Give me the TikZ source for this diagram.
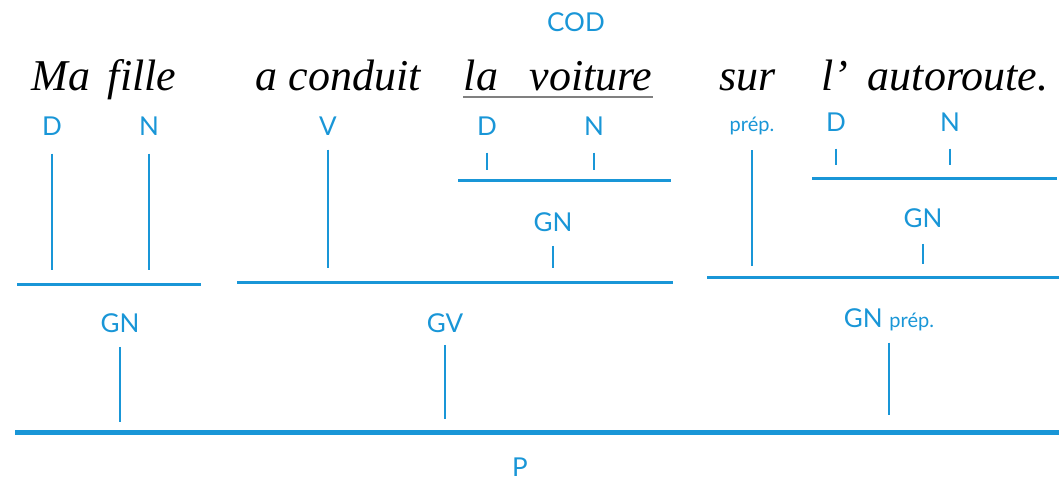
\documentclass[tikz,border=0pt]{standalone}
\usepackage{fontspec}
\newfontfamily\gillfont{Lato}
\newfontfamily\motfont{Liberation Serif}
\definecolor{schema}{RGB}{25,150,215}
\tikzset{
  mot/.style={font=\motfont\fontsize{22}{26}\selectfont\itshape, inner sep=0pt, anchor=base},
  cat/.style={font=\gillfont\fontsize{13}{15}\selectfont, text=schema, inner sep=2pt},
  petit/.style={font=\gillfont\fontsize{10}{12}\selectfont, text=schema, inner sep=2pt},
  trait/.style={draw=schema, line width=1pt},
  barre/.style={draw=schema, line width=1.5pt},
}
\begin{document}
\begin{tikzpicture}[x=0.5pt,y=-0.5pt]
\useasboundingbox (0,0) rectangle (1061,479);

% la phrase
\node[mot] (ma) at (61,90) {Ma};
\node[mot] (fille) at (142,90) {fille};
\node[mot] (conduit) at (338,90) {a conduit};
\node[mot] (la) at (481,90) {la};
\node[mot] (voiture) at (591,90) {voiture};
\node[mot] (sur) at (748,90) {sur};
\node[mot] (l) at (835,90) {l’};
\node[mot] (autoroute) at (958,90) {autoroute.};
\draw[gray, line width=0.6pt] ([yshift=-3.5pt]la.base west) -- ([yshift=-3.5pt]voiture.base east);

\node[cat] (cod) at (576,22) {COD};

% barres
\coordinate (b1l) at (17,284);
\coordinate (b1r) at (201,284);
\coordinate (b2l) at (237,282);
\coordinate (b2r) at (673,282);
\coordinate (b3l) at (707,277);
\coordinate (b3r) at (1059,277);
\coordinate (c1l) at (458,180);
\coordinate (c1r) at (671,180);
\coordinate (c2l) at (812,178);
\coordinate (c2r) at (1057,178);
\coordinate (pl) at (15,432);
\coordinate (pr) at (1059,432);

\draw[barre] (b1l) -- (b1r);
\draw[barre] (b2l) -- (b2r);
\draw[barre] (b3l) -- (b3r);
\draw[barre] (c1l) -- (c1r);
\draw[barre] (c2l) -- (c2r);
\draw[barre, line width=2.5pt] (pl) -- (pr);

% categories
\node[cat] (d1) at (52,126) {D};
\node[cat] (n1) at (149,126) {N};
\node[cat] (v) at (328,126) {V};
\node[cat] (d2) at (487,126) {D};
\node[cat] (n2) at (594,126) {N};
\node[petit] (prep) at (752,126) {prép.};
\node[cat] (d3) at (836,122) {D};
\node[cat] (n3) at (950,122) {N};

\node[cat] (gn1) at (553,222) {GN};
\node[cat] (gn2) at (923,218) {GN};

\node[cat] (gn) at (120,323) {GN};
\node[cat] (gv) at (445,323) {GV};
\node[cat] (gnp) at (889,320) {GN {\fontsize{10}{12}\selectfont prép.}};
\node[cat] (p) at (520,467) {P};

% traits
\foreach \n in {d1,n1}
    \draw[trait, shorten <=7pt, shorten >=7pt] (\n) -- (\n |- b1l);
\draw[trait, shorten <=5pt, shorten >=7pt] (v) -- (v |- b2l);
\foreach \n in {d2,n2}
    \draw[trait, shorten <=6.5pt, shorten >=5pt] (\n) -- (\n |- c1l);
\draw[trait, shorten <=5.5pt, shorten >=5.5pt] (prep) -- (prep |- b3l);
\foreach \n in {d3,n3}
    \draw[trait, shorten <=6.5pt, shorten >=6.5pt] (\n) -- (\n |- c2l);
\draw[trait, shorten <=5pt, shorten >=7pt] (gn1) -- (gn1 |- b2l);
\draw[trait, shorten <=6pt, shorten >=6.5pt] (gn2) -- (gn2 |- b3l);

\draw[trait, shorten <=5pt, shorten >=5pt] (gn) -- (gn |- pl);
\draw[trait, shorten <=4pt, shorten >=6.5pt] (gv) -- (gv |- pl);
\draw[trait, shorten <=3.5pt, shorten >=8.5pt] (gnp) -- (gnp |- pl);

\end{tikzpicture}
\end{document}
